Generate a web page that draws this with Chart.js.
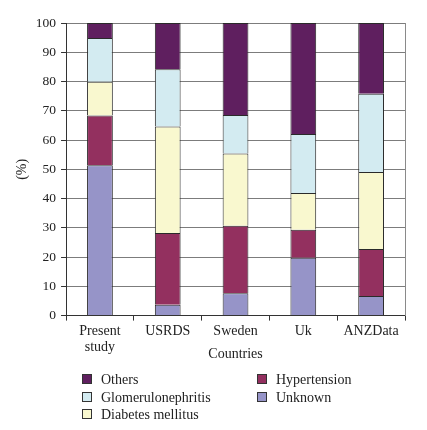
<!DOCTYPE html>
<html>
<head>
<meta charset="utf-8">
<script src="https://cdn.jsdelivr.net/npm/chart.js@4/dist/chart.umd.min.js"></script>
<style>
  body { margin: 0; background: #fff; }
  #wrap { position: relative; width: 427px; height: 430px; }
  #legend { position: absolute; left: 82px; top: 372px; width: 340px; font-family: "Liberation Serif", serif; font-size: 14px; color: #222; }
  .item { position: absolute; white-space: nowrap; }
  .item span.box { display: inline-block; width: 8px; height: 8px; border: 1px solid #333; vertical-align: 0px; margin-right: 9px; }
</style>
</head>
<body>
<div id="wrap">
  <canvas id="causeChart" width="427" height="430"></canvas>
  <div id="legend"></div>
</div>
<script>
var categories = [["Present", "study"], "USRDS", "Sweden", "Uk", "ANZData"];
var unknown = [51.4, 3.7, 7.6, 19.8, 6.7];
var hypertension = [17.0, 24.5, 23.1, 9.5, 16.1];
var diabetes = [11.5, 36.4, 24.7, 12.6, 26.3];
var glomerulo = [15.0, 19.6, 13.2, 20.2, 26.7];
var others = [5.1, 15.8, 31.4, 37.9, 24.2];
var yTicks = [0, 10, 20, 30, 40, 50, 60, 70, 80, 90, 100];

var serif = "'Liberation Serif', 'Times New Roman', serif";

function ds(label, data, color) {
    return {
        label: label,
        data: data,
        backgroundColor: color,
        borderColor: "#2a2a2a",
        borderWidth: 1,
        barPercentage: 0.38,
        categoryPercentage: 1
    };
}

var datasets = [
    ds("Unknown", unknown, "#9694c8"),
    ds("Hypertension", hypertension, "#93305f"),
    ds("Diabetes mellitus", diabetes, "#f9f8cf"),
    ds("Glomerulonephritis", glomerulo, "#d3ebf1"),
    ds("Others", others, "#5f1f5f")
];

var ctx = document.getElementById("causeChart").getContext("2d");
new Chart(ctx, {
    type: 'bar',
    data: { labels: categories, datasets: datasets },
    options: {
        responsive: false,
        animation: false,
        layout: { padding: { left: 10, right: 22, top: 23, bottom: 63 } },
        plugins: { legend: { display: false }, tooltip: { enabled: false } },
        scales: {
            x: {
                stacked: true,
                grid: { drawOnChartArea: false, color: "#333", tickLength: 5, offset: true },
                border: { color: "#333" },
                ticks: { color: "#222", font: { family: serif, size: 14 }, padding: 2, maxRotation: 0 },
                title: { display: true, text: "Countries", color: "#222", font: { family: serif, size: 14 }, padding: { top: -12 } }
            },
            y: {
                stacked: true,
                min: 0,
                max: 100,
                afterBuildTicks: function (axis) {
                    axis.ticks = yTicks.map(function (v) { return { value: v }; });
                },
                grid: { color: "#7c7c7c", tickColor: "#333", tickLength: 5 },
                border: { color: "#333" },
                ticks: { color: "#222", font: { family: serif, size: 13.5 }, padding: 5 },
                title: { display: true, text: "(%)", color: "#222", font: { family: serif, size: 14 }, padding: { bottom: 0 } }
            },
            yRight: {
                position: "right",
                min: 0,
                max: 100,
                grid: { drawOnChartArea: false, drawTicks: false },
                border: { color: "#8a8a8a" },
                ticks: { display: false }
            }
        }
    }
});

// legend laid out in two columns like the original
var order = [4, 3, 2, 1, 0];
var legend = document.getElementById("legend");
order.forEach(function (idx, i) {
    var d = datasets[idx];
    var el = document.createElement("div");
    el.className = "item";
    el.style.left = (i < 3 ? 0 : 175) + "px";
    el.style.top = ((i < 3 ? i : i - 3) * 17.5) + "px";
    el.innerHTML = '<span class="box" style="background:' + d.backgroundColor + '"></span>' + d.label;
    legend.appendChild(el);
});
</script>
</body>
</html>
